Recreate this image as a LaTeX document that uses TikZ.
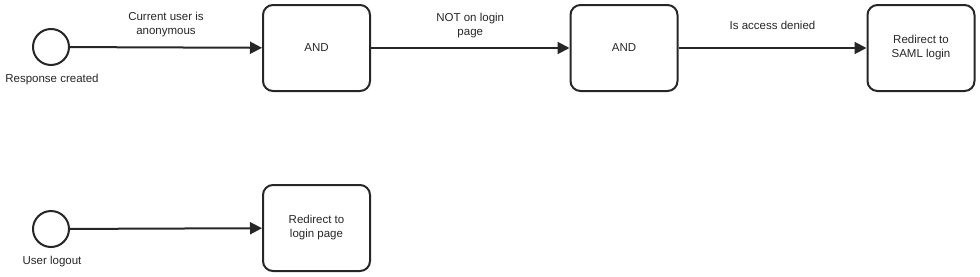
\documentclass[tikz,border=0pt]{standalone}
\usepackage{fontspec}
\setmainfont{Liberation Sans}
\usetikzlibrary{arrows.meta}
\begin{document}
\begin{tikzpicture}[x=1pt,y=-1pt,
  every node/.style={font=\fontsize{11.5}{14}\selectfont, text=black!85},
  task/.style={draw=black!85, line width=2pt, rounded corners=10pt, minimum width=107pt, minimum height=86pt, align=center, inner sep=0pt},
  event/.style={draw=black!85, line width=2pt, circle, minimum size=36pt, inner sep=0pt},
  flow/.style={draw=black!85, line width=2pt, -{Triangle[length=12pt,width=12pt]}},
  lbl/.style={align=center}
]
\useasboundingbox (0,0) rectangle (980,276);
\node[event] (s1) at (51,47) {};
\node[lbl] (s1l) at (52,80) {Response created};
\node[task] (a1) at (316.5,48) {AND};
\node[task] (a2) at (624,48) {AND};
\node[task] (r1) at (921,48) {Redirect to\\SAML login};
\node[event] (s2) at (51,229) {};
\node[lbl] (s2l) at (52,262) {User logout};
\node[task] (r2) at (316.5,228) {Redirect to\\login page};
\draw[flow] (s1) -- (a1) node[midway, above=6pt, align=center] {Current user is\\anonymous};
\draw[flow] (a1) -- (a2) node[midway, above=6pt, align=center] {NOT on login\\page};
\draw[flow] (a2) -- (r1) node[midway, above=14pt] {Is access denied};
\draw[flow] (s2) -- (r2);
\end{tikzpicture}
\end{document}
